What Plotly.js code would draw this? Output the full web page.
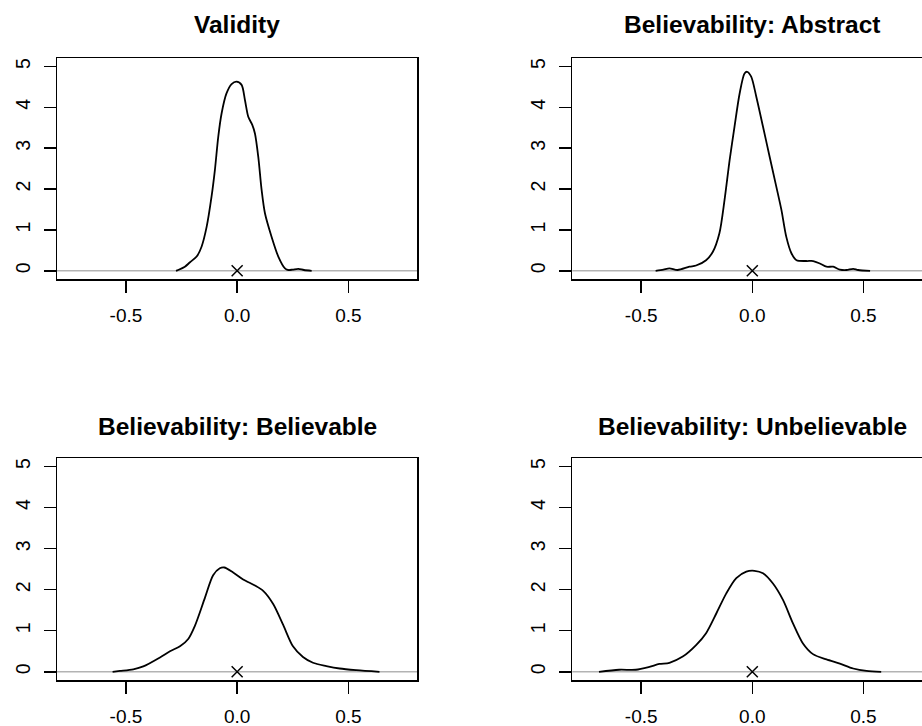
<!DOCTYPE html>
<html>
<head>
<meta charset="utf-8">
<script src="https://cdn.plot.ly/plotly-3.0.1.min.js"></script>
<style>
html, body { margin: 0; padding: 0; overflow: hidden; background: #fff; }
#chart { width: 940px; height: 726px; }
</style>
</head>
<body>
<div id="chart"></div>
<script>
// Panel titles
const titles = ["Validity", "Believability: Abstract", "Believability: Believable", "Believability: Unbelievable"];

// Tick values / labels
const xTickVals = [-0.5, 0, 0.5];
const xTickText = ["-0.5", "0.0", "0.5"];
const yTickVals = [0, 1, 2, 3, 4, 5];
const yTickText = ["0", "1", "2", "3", "4", "5"];

// Density curves
const validityX = [-0.275, -0.265, -0.235, -0.212, -0.182, -0.16, -0.137, -0.115, -0.10, -0.085, -0.07, -0.048, -0.025, -0.003, 0.02, 0.035, 0.05, 0.068, 0.08, 0.095, 0.11, 0.125, 0.155, 0.185, 0.215, 0.23, 0.25, 0.275, 0.30, 0.335];
const validityY = [0, 0.02, 0.10, 0.21, 0.35, 0.59, 1.08, 1.82, 2.47, 3.28, 3.85, 4.34, 4.57, 4.63, 4.55, 4.18, 3.77, 3.57, 3.36, 2.79, 1.98, 1.41, 0.83, 0.35, 0.06, 0.02, 0.03, 0.05, 0.02, 0];

const abstractX = [-0.435, -0.40, -0.373, -0.336, -0.283, -0.253, -0.208, -0.178, -0.148, -0.125, -0.102, -0.08, -0.057, -0.035, -0.023, -0.005, 0.018, 0.048, 0.078, 0.108, 0.131, 0.153, 0.176, 0.199, 0.244, 0.274, 0.304, 0.334, 0.364, 0.394, 0.424, 0.454, 0.476, 0.53];
const abstractY = [0, 0.03, 0.06, 0.02, 0.10, 0.13, 0.26, 0.46, 0.92, 1.73, 2.71, 3.53, 4.34, 4.83, 4.87, 4.75, 4.26, 3.53, 2.79, 2.06, 1.49, 0.83, 0.43, 0.26, 0.24, 0.24, 0.18, 0.10, 0.10, 0.03, 0.02, 0.05, 0.02, 0];

const believableX = [-0.56, -0.527, -0.467, -0.422, -0.347, -0.302, -0.257, -0.22, -0.19, -0.145, -0.108, -0.078, -0.058, -0.018, 0.027, 0.08, 0.117, 0.162, 0.207, 0.251, 0.296, 0.341, 0.401, 0.461, 0.536, 0.64];
const believableY = [0, 0.02, 0.06, 0.13, 0.35, 0.50, 0.62, 0.80, 1.12, 1.80, 2.35, 2.52, 2.54, 2.42, 2.25, 2.10, 1.97, 1.65, 1.14, 0.62, 0.36, 0.22, 0.14, 0.08, 0.04, 0];

const unbelievableX = [-0.69, -0.599, -0.524, -0.463, -0.418, -0.373, -0.313, -0.253, -0.208, -0.162, -0.117, -0.072, -0.027, 0.01, 0.048, 0.093, 0.138, 0.183, 0.228, 0.273, 0.334, 0.394, 0.454, 0.514, 0.58];
const unbelievableY = [0, 0.05, 0.05, 0.12, 0.19, 0.22, 0.37, 0.65, 0.94, 1.42, 1.91, 2.28, 2.44, 2.46, 2.40, 2.15, 1.75, 1.18, 0.69, 0.43, 0.30, 0.20, 0.08, 0.02, 0];

// Mean marker (x) at the origin of each panel
const markX = [0];
const markY = [0];

const curvesX = [validityX, abstractX, believableX, unbelievableX];
const curvesY = [validityY, abstractY, believableY, unbelievableY];

const W = 940, H = 726;
const colPx = [[57, 417.3], [572.3, 932.3]];
const rowPx = [[58.3, 279], [458.3, 680]];
const titleY = [25, 426];

const data = [];
const layout = {
  width: W, height: H,
  margin: {l: 0, r: 0, t: 0, b: 0},
  paper_bgcolor: "#fff", plot_bgcolor: "#fff",
  showlegend: false,
  font: {family: "Liberation Sans, Arial, sans-serif", color: "#000", size: 18},
  shapes: [], annotations: []
};

for (let i = 0; i < 4; i++) {
  const r = Math.floor(i / 2), c = i % 2;
  const xa = i === 0 ? "x" : "x" + (i + 1);
  const ya = i === 0 ? "y" : "y" + (i + 1);
  const xk = i === 0 ? "xaxis" : "xaxis" + (i + 1);
  const yk = i === 0 ? "yaxis" : "yaxis" + (i + 1);
  layout[xk] = {
    domain: [colPx[c][0] / W, colPx[c][1] / W],
    range: [-0.81, 0.81], anchor: ya,
    showgrid: false, zeroline: false,
    showline: true, mirror: true, linecolor: "#000", linewidth: 1.5,
    ticks: "outside", ticklen: 12, tickwidth: 1.5, tickcolor: "#000",
    tickmode: "array", tickvals: xTickVals, ticktext: xTickText,
    tickfont: {size: 19}, ticklabelstandoff: 7
  };
  layout[yk] = {
    domain: [1 - rowPx[r][1] / H, 1 - rowPx[r][0] / H],
    range: [-0.2, 5.2], anchor: xa,
    showgrid: false, zeroline: false,
    showline: true, mirror: true, linecolor: "#000", linewidth: 1.5,
    ticks: "outside", ticklen: 12, tickwidth: 1.5, tickcolor: "#000",
    tickmode: "array", tickvals: yTickVals, ticktext: yTickText,
    tickangle: -90, tickfont: {size: 19.5}, ticklabelstandoff: 6
  };
  layout.shapes.push({
    type: "line", xref: xa + " domain", yref: ya,
    x0: 0, x1: 1, y0: 0, y1: 0,
    line: {color: "#b3b3b3", width: 1.5}, layer: "below"
  });
  layout.annotations.push({
    text: "<b>" + titles[i] + "</b>", showarrow: false,
    xref: "paper", yref: "paper",
    x: (colPx[c][0] + colPx[c][1]) / 2 / W, y: 1 - titleY[r] / H,
    xanchor: "center", yanchor: "middle",
    font: {size: 24.5, color: "#000", family: "Liberation Sans, Arial, sans-serif"}
  });
  data.push({
    x: curvesX[i], y: curvesY[i], xaxis: xa, yaxis: ya,
    type: "scatter", mode: "lines",
    line: {color: "#000", width: 1.8, shape: "spline", smoothing: 0.8},
    hoverinfo: "skip"
  });
  data.push({
    x: markX, y: markY, xaxis: xa, yaxis: ya,
    type: "scatter", mode: "markers",
    marker: {symbol: "x-thin-open", size: 11, color: "#000", line: {color: "#000", width: 1.5}},
    hoverinfo: "skip"
  });
}

Plotly.newPlot("chart", data, layout, {staticPlot: true});
</script>
</body>
</html>
